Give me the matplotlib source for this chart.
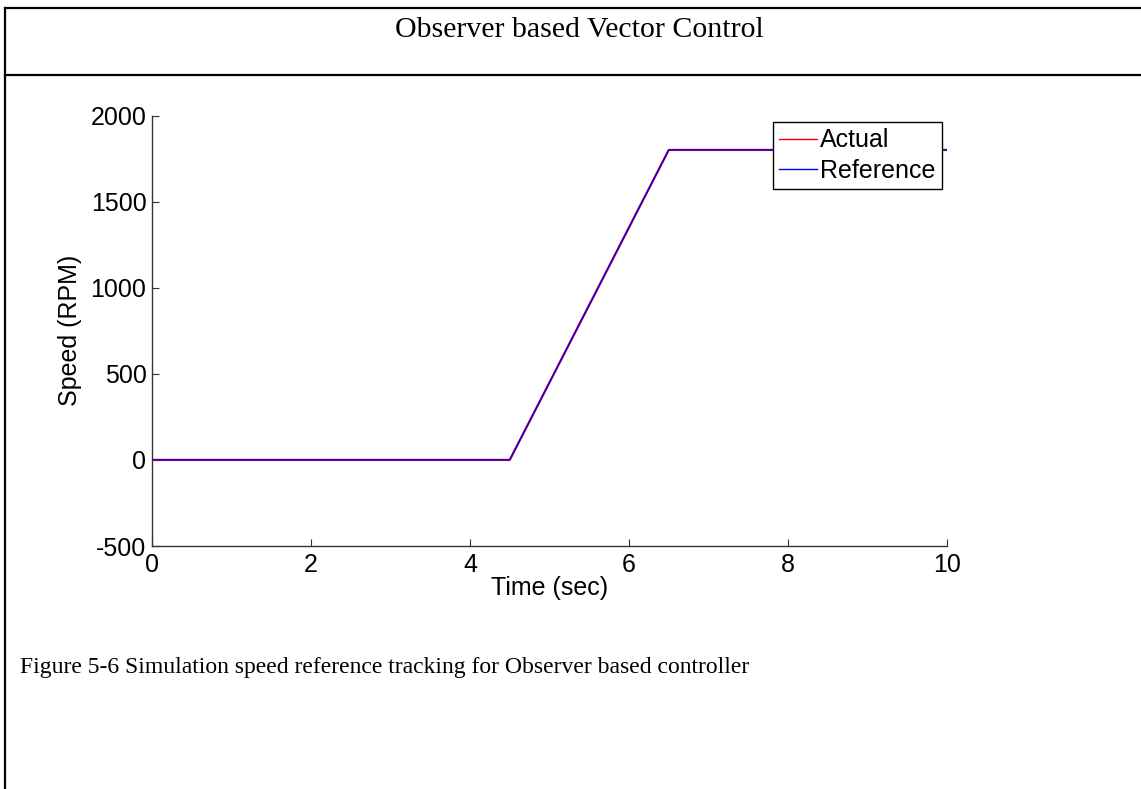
import matplotlib
matplotlib.use("Agg")
import matplotlib.pyplot as plt
from matplotlib.lines import Line2D

# Data
time_ref = [0, 4.5, 6.5, 10]
speed_ref = [0, 0, 1800, 1800]
time_act = [0, 4.5, 6.5, 10]
speed_act = [0, 0, 1800, 1800]
x_ticks = [0, 2, 4, 6, 8, 10]
x_tick_labels = ["0", "2", "4", "6", "8", "10"]
y_ticks = [-500, 0, 500, 1000, 1500, 2000]
y_tick_labels = ["-500", "0", "500", "1000", "1500", "2000"]
series_labels = ["Actual", "Reference"]
title_text = "Observer based Vector Control"
caption_text = "Figure 5-6 Simulation speed reference tracking for Observer based controller"

W, H = 1141, 789
fig = plt.figure(figsize=(W / 100, H / 100), dpi=100)
fig.patch.set_facecolor("white")

def fx(px):
    return px / W

def fy(py):
    return 1 - py / H

# Table borders
fig.add_artist(Line2D([fx(4.5), fx(4.5)], [fy(7.5), fy(789)], color="black", lw=1.6))
fig.add_artist(Line2D([fx(4.5), 1], [fy(7.5), fy(7.5)], color="black", lw=1.6))
fig.add_artist(Line2D([fx(4.5), 1], [fy(75), fy(75)], color="black", lw=1.6))

serif = ["Liberation Serif", "DejaVu Serif"]
sans = ["Liberation Sans", "DejaVu Sans"]

fig.text(fx(579), fy(30), title_text, ha="center", va="center", fontsize=21.5, family=serif)
fig.text(fx(20), fy(668), caption_text, ha="left", va="center", fontsize=17, family=serif)

left, right = 152, 947
top, bottom = 115.5, 546
ax = fig.add_axes([fx(left), fy(bottom), (right - left) / W, (bottom - top) / H])

ax.plot(time_act, speed_act, color="red", lw=1.6, label=series_labels[0])
ax.plot(time_ref, speed_ref, color="blue", lw=1.0, label=series_labels[1])

ax.set_xlim(0, 10)
ax.set_ylim(-500, 2000)
ax.set_xticks(x_ticks)
ax.set_xticklabels(x_tick_labels)
ax.set_yticks(y_ticks)
ax.set_yticklabels(y_tick_labels)
ax.spines["top"].set_visible(False)
ax.spines["right"].set_visible(False)
for s in ("left", "bottom"):
    ax.spines[s].set_color("#333333")
    ax.spines[s].set_linewidth(1.0)
ax.tick_params(direction="in", length=5, width=0.8, color="#333333",
               labelsize=18)
ax.tick_params(axis="x", pad=5)
ax.tick_params(axis="y", pad=4)
for lab in ax.get_xticklabels() + ax.get_yticklabels():
    lab.set_family(sans)

ax.set_xlabel("Time (sec)", fontsize=18, family=sans, labelpad=-1)
ax.set_ylabel("Speed (RPM)", fontsize=18, family=sans, labelpad=6)

leg = ax.legend(loc="upper right", bbox_to_anchor=(fx(942), fy(122)),
                bbox_transform=fig.transFigure, borderaxespad=0,
                fancybox=False, framealpha=1, edgecolor="black",
                prop={"family": sans, "size": 18}, handlelength=1.5,
                handletextpad=0.15, labelspacing=0.25, borderpad=0.25)
leg.get_frame().set_linewidth(1.0)
leg.get_lines()[0].set_linewidth(1.0)

fig.savefig("out.png", dpi=100, facecolor="white")
